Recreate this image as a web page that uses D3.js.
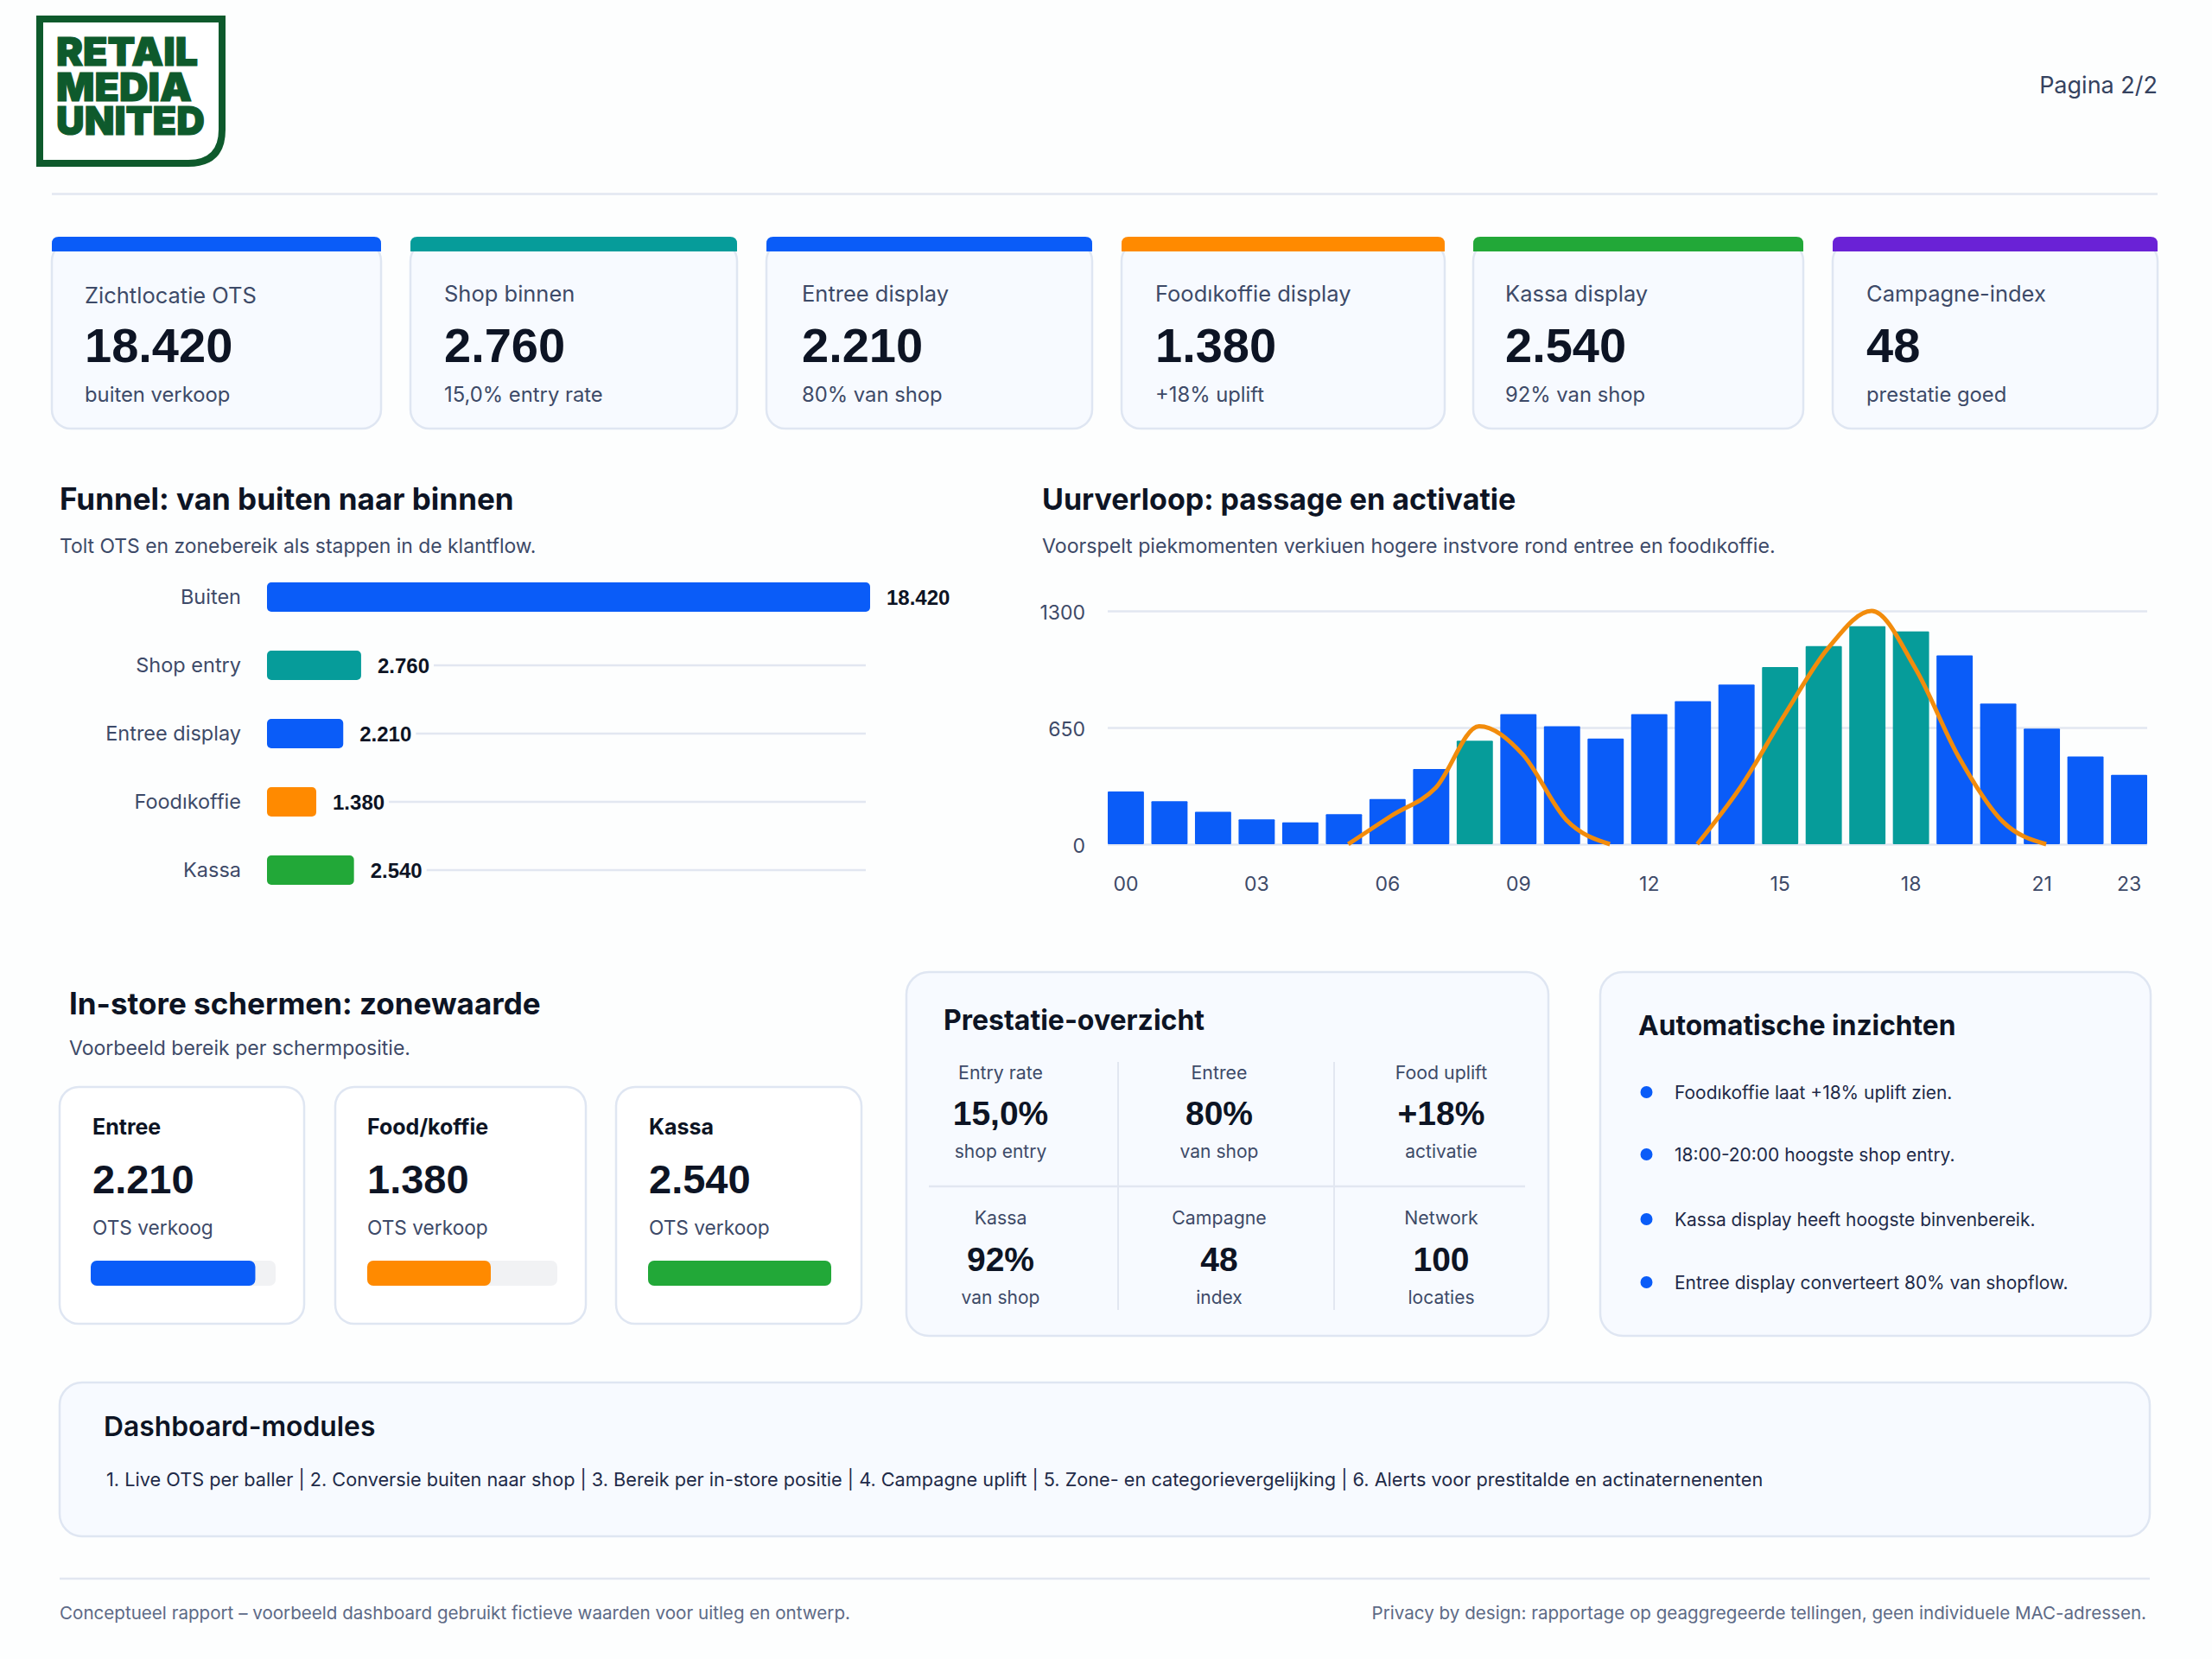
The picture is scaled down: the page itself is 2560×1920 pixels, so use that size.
<!DOCTYPE html>
<html lang="nl"><head><meta charset="utf-8">
<script src="https://cdnjs.cloudflare.com/ajax/libs/d3/7.8.5/d3.min.js"></script>
<style>html,body{margin:0;padding:0;background:#fdfefe}svg{display:block}text{font-family:Inter,"Noto Sans",sans-serif}</style>
</head><body><svg id="c" width="2560" height="1920" viewBox="0 0 2560 1920"></svg>
<script>
// ---- data ----
const kpiLabels=["Zichtlocatie OTS","Shop binnen","Entree display","Foodıkoffie display","Kassa display","Campagne-index"];
const kpiValues=["18.420","2.760","2.210","1.380","2.540","48"];
const kpiSubs=["buiten verkoop","15,0% entry rate","80% van shop","+18% uplift","92% van shop","prestatie goed"];
const kpiColors=["#0a5cf8","#069c9a","#0a5cf8","#ff8a00","#22a838","#6a22d6"];
const funnelLabels=["Buiten","Shop entry","Entree display","Foodıkoffie","Kassa"];
const funnelValues=[18420,2760,2210,1380,2540];
const funnelColors=["#0a5cf8","#069c9a","#0a5cf8","#ff8a00","#22a838"];
const hours=d3.range(24).map(h=>String(h).padStart(2,"0"));
const passage=[294,240,180,138,122,167,252,419,576,725,657,589,725,797,889,987,1104,1214,1186,1052,784,644,489,386];
const tealHours=["08","15","16","17","18"];
const activation=[null,null,null,null,null,0,160,313,657,500,135,0,null,0,321,720,1092,1300,980,484,127,0,null,null];
const hourTicks=["00","03","06","09","12","15","18","21","23"];
const yTicks=[0,650,1300];
const zoneNames=["Entree","Food/koffie","Kassa"];
const zoneValues=["2.210","1.380","2.540"];
const zoneSubs=["OTS verkoog","OTS verkoop","OTS verkoop"];
const zoneFill=[0.89,0.65,1];
const zoneColors=["#0a5cf8","#ff8a00","#22a838"];
const perfLabels=["Entry rate","Entree","Food uplift","Kassa","Campagne","Network"];
const perfValues=["15,0%","80%","+18%","92%","48","100"];
const perfSubs=["shop entry","van shop","activatie","van shop","index","locaties"];
const insights=["Foodıkoffie laat +18% uplift zien.","18:00-20:00 hoogste shop entry.","Kassa display heeft hoogste binvenbereik.","Entree display converteert 80% van shopflow."];
const modulesText="1. Live OTS per baller | 2. Conversie buiten naar shop | 3. Bereik per in-store positie | 4. Campagne uplift | 5. Zone- en categorievergelijking | 6. Alerts voor prestitalde en actinaternenenten";
const logoLines=["RETAIL","MEDIA","UNITED"];

// ---- layout ----
const INK="#0d1424", SLATE="#3d4a68", GRID="#e2e7f1", BORDER="#dfe6f2", PANEL="#f7faff", NUM='"Liberation Sans",Arial,sans-serif';
const svg=d3.select("#c");
svg.append("rect").attr("width",2560).attr("height",1920).attr("fill","#fdfefe");
function T(x,y,s,size,weight,fill,anchor,g){
  return (g||svg).append("text").attr("x",x).attr("y",y).text(s).attr("font-size",size)
    .attr("font-weight",weight||400).attr("fill",fill||INK).attr("text-anchor",anchor||"start");
}
function card(x0,y0,x1,y1,r,fill){
  return svg.append("rect").attr("x",x0).attr("y",y0).attr("width",x1-x0).attr("height",y1-y0).attr("rx",r)
    .attr("fill",fill).attr("stroke",BORDER).attr("stroke-width",2.5);
}
function line(x0,y0,x1,y1,w,c,g){
  return (g||svg).append("line").attr("x1",x0).attr("y1",y0).attr("x2",x1).attr("y2",y1).attr("stroke",c||GRID).attr("stroke-width",w||2);
}

// logo
const G="#0e5a2c";
svg.append("path").attr("d","M46 22H257V150Q257 189 218 189H46Z").attr("fill","#fff").attr("stroke",G).attr("stroke-width",8);
const logoW=[164,157,172], logoY=[76,117,156];
logoLines.forEach((s,i)=>{
  T(65,logoY[i],s,46,900,G).attr("textLength",logoW[i]).attr("lengthAdjust","spacingAndGlyphs")
   .attr("stroke",G).attr("stroke-width",1.2);
});
T(2497,108,"Pagina 2/2",27,400,"#35425f","end");
line(60,224.5,2497,224.5,2.5);

// KPI cards
const kpiX=[[60,441],[475,853],[887,1264],[1298,1672],[1705,2087],[2121,2497]];
const kpiTx=[98,514,928,1337,1742,2160], kpiLy=[351,349,349,349,349,349];
kpiLabels.forEach((l,i)=>{
  const [a,b]=kpiX[i];
  card(a,280,b,496,22,PANEL);
  svg.append("path").attr("d",`M${a} 291V282Q${a} 274 ${a+8} 274H${b-8}Q${b} 274 ${b} 282V291Z`).attr("fill",kpiColors[i]);
  T(kpiTx[i],kpiLy[i],l,25.5,400,SLATE);
  T(kpiTx[i],418.5,kpiValues[i],56,700,INK).style("font-family",NUM);
  T(kpiTx[i],465,kpiSubs[i],23.8,400,SLATE);
});

// Funnel
T(69,590,"Funnel: van buiten naar binnen",35,700);
T(69,640,"Tolt OTS en zonebereik als stappen in de klantflow.",22.9,400,SLATE);
const fx=d3.scaleLinear().domain([-136,18420]).range([309,1007]);
const fy=d3.scaleBand().domain(funnelLabels).range([629,1069]).padding(0.57);
const fg=svg.append("g");
funnelLabels.forEach((l,i)=>{
  const y=fy(l), h=fy.bandwidth(), cy=y+h/2, end=fx(funnelValues[i]);
  T(279,cy+8,l,23.5,400,SLATE,"end",fg);
  const vt=T(end+19,cy+9,d3.format(",")(funnelValues[i]).replace(",","."),24,700,INK,"start",fg).style("font-family",NUM);
  if(i>0) line(end+19+vt.node().getComputedTextLength()+5,cy,1002,cy,2.5,GRID,fg);
  fg.append("rect").attr("x",309).attr("y",y).attr("width",end-309).attr("height",h).attr("rx",5).attr("fill",funnelColors[i]);
});

// Hourly
T(1206,590,"Uurverloop: passage en activatie",34,700);
T(1206,640,"Voorspelt piekmomenten verkiuen hogere instvore rond entree en foodıkoffie.",23.15,400,SLATE);
const hx=d3.scaleBand().domain(hours).range([1282,2485]).paddingInner(0.17).paddingOuter(0);
const hy=d3.scaleLinear().domain([0,1300]).range([977,707]);
const gy=svg.append("g").attr("transform","translate(1282,0)")
  .call(d3.axisLeft(hy).tickValues(yTicks).tickSize(-1203).tickPadding(26).tickFormat(d3.format("d")));
gy.select(".domain").remove();
gy.selectAll(".tick line").attr("stroke",GRID).attr("stroke-width",2.5);
gy.selectAll(".tick text").attr("font-size",23).attr("fill",SLATE).attr("dy","0.42em");
svg.append("g").selectAll("rect").data(hours).join("rect")
  .attr("x",d=>hx(d)).attr("y",(d,i)=>hy(passage[i])).attr("width",hx.bandwidth())
  .attr("height",(d,i)=>hy(0)-hy(passage[i])).attr("rx",1)
  .attr("fill",d=>tealHours.includes(d)?"#069c9a":"#0a5cf8");
const gx=svg.append("g").attr("transform","translate(0,977)")
  .call(d3.axisBottom(hx).tickValues(hourTicks).tickSize(0).tickPadding(38));
gx.select(".domain").remove();
gx.selectAll(".tick text").attr("font-size",23).attr("fill",SLATE);
const lineGen=d3.line().defined(d=>d!==null)
  .x((d,i)=>hx(hours[i])+hx.bandwidth()/2+5).y(d=>hy(d)).curve(d3.curveMonotoneX);
svg.append("path").attr("d",lineGen(activation)).attr("fill","none").attr("stroke","#f28c0c").attr("stroke-width",5).attr("stroke-linejoin","round");

// Zones
T(80,1174,"In-store schermen: zonewaarde",35,700);
T(80,1221,"Voorbeeld bereik per schermpositie.",23,400,SLATE);
const zoneX=[[69,352],[388,678],[713,997]], zoneT=[107,425,751], zoneB=[[105,319],[425,645],[750,962]];
zoneNames.forEach((n,i)=>{
  card(zoneX[i][0],1258,zoneX[i][1],1532,22,"#fff");
  T(zoneT[i],1313,n,25,700,INK);
  T(zoneT[i],1381,zoneValues[i],47,700,INK).style("font-family",NUM);
  T(zoneT[i],1429,zoneSubs[i],22.7,400,SLATE);
  const sc=d3.scaleLinear().domain([0,1]).range(zoneB[i]);
  svg.append("rect").attr("x",sc(0)).attr("y",1459).attr("width",sc(1)-sc(0)).attr("height",29).attr("rx",7).attr("fill","#f1f2f4");
  svg.append("rect").attr("x",sc(0)).attr("y",1459).attr("width",sc(zoneFill[i])-sc(0)).attr("height",29).attr("rx",7).attr("fill",zoneColors[i]);
});

// Performance
card(1049,1125,1792,1546,26,PANEL);
T(1092,1192,"Prestatie-overzicht",32,700);
line(1294,1229,1294,1516,2);line(1544,1229,1544,1516,2);line(1075,1373,1765,1373,2.5);
const perfCx=[1158,1411,1668], perfRow=[[1249,1301.5,1340],[1417,1470.5,1509]];
perfLabels.forEach((l,i)=>{
  const c=perfCx[i%3], r=perfRow[Math.floor(i/3)];
  T(c,r[0],l,21.3,400,SLATE,"middle");
  T(c,r[1],perfValues[i],39,700,INK,"middle").style("font-family",NUM);
  T(c,r[2],perfSubs[i],21,400,SLATE,"middle");
});

// Insights
card(1852,1125,2489,1546,26,PANEL);
T(1896,1198,"Automatische inzichten",31.7,700);
const insY=[1264,1336,1411,1484];
insights.forEach((s,i)=>{
  svg.append("circle").attr("cx",1905.5).attr("cy",insY[i]).attr("r",7).attr("fill","#0a5cf8");
  T(1938,insY[i]+8,s,20.95,400,"#1e2a48");
});

// Modules
card(69,1600,2488,1778,26,PANEL);
T(120,1662,"Dashboard-modules",31.8,600);
T(123,1720,modulesText,21.7,400,"#1e2a48");
line(69,1827,2488,1827,2.5);
T(69,1874,"Conceptueel rapport – voorbeeld dashboard gebruikt fictieve waarden voor uitleg en ontwerp.",20.6,400,"#5d6a86");
T(2484,1874,"Privacy by design: rapportage op geaggregeerde tellingen, geen individuele MAC-adressen.",20.6,400,"#5d6a86","end");
</script></body></html>
